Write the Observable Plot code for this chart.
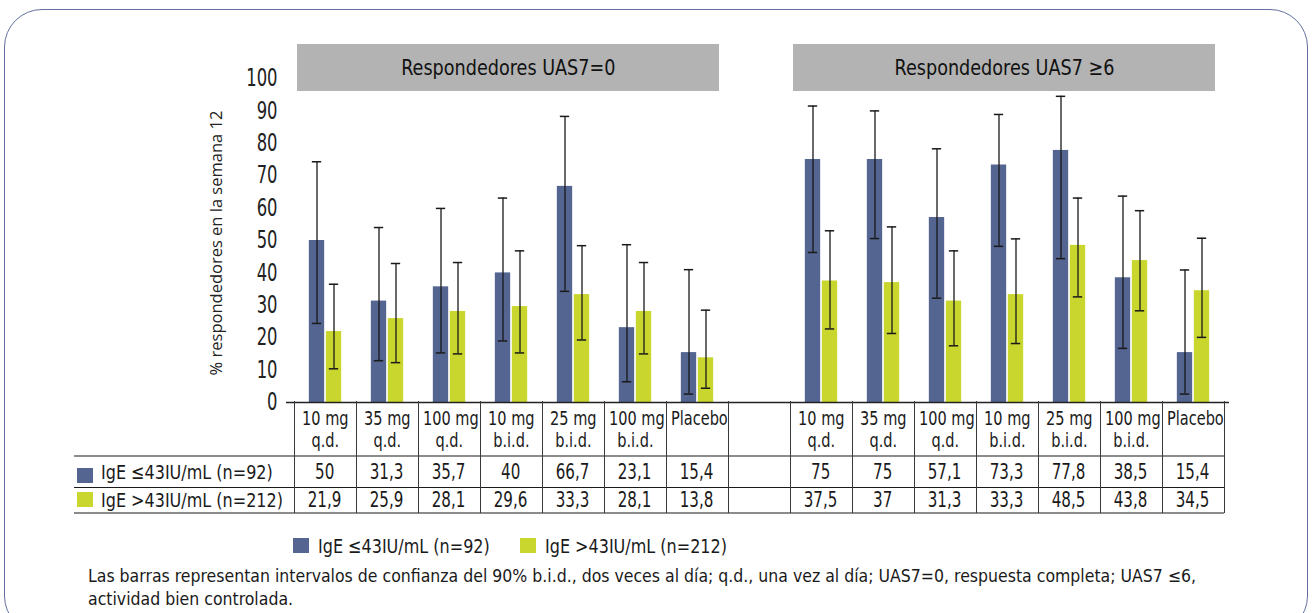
<!DOCTYPE html>
<html><head><meta charset="utf-8">
<script src="https://cdn.jsdelivr.net/npm/d3@7"></script>
<script src="https://cdn.jsdelivr.net/npm/@observablehq/plot@0.6"></script>
<style>
html,body{margin:0;padding:0;background:#fff;}
body{width:1315px;height:613px;overflow:hidden;position:relative;font-family:"DejaVu Sans Condensed","DejaVu Sans",sans-serif;font-stretch:condensed;color:#1a1a1a;}
#frame{position:absolute;left:4px;top:9px;width:1304px;height:625px;border:1.6px solid #6170a0;border-radius:38px;box-sizing:border-box;}
#chart{position:absolute;left:0;top:0;}
.title{position:absolute;top:44px;height:47px;background:#b3b3b3;display:flex;align-items:center;justify-content:center;font-size:22px;color:#111;white-space:nowrap;}
.hline{position:absolute;height:0;}
.vline{position:absolute;width:0;border-left:1.3px solid #3a3a3a;}
.hdr{position:absolute;text-align:center;font-size:19px;line-height:22px;color:#1a1a1a;white-space:nowrap;}
.val{position:absolute;text-align:center;font-size:20.5px;color:#1a1a1a;white-space:nowrap;}
.rowlab{position:absolute;font-size:20px;white-space:nowrap;}
.sw{position:absolute;}
.leg{position:absolute;font-size:20px;line-height:24px;white-space:nowrap;}
.sx{display:inline-block;}
#ylabel{position:absolute;left:216px;top:243px;transform:translate(-50%,-50%) rotate(-90deg);font-family:"Open Sans","Noto Sans",sans-serif;font-stretch:normal;font-size:16.5px;line-height:20px;white-space:nowrap;color:#222;}
#caption{position:absolute;left:88px;top:565px;font-size:17.5px;line-height:23px;color:#1a1a1a;width:1150px;}
</style></head><body>
<div id="frame"></div>
<div id="chart"></div>
<script>
// ---- data ----
const treatments = ["10 mg q.d.", "35 mg q.d.", "100 mg q.d.", "10 mg b.i.d.", "25 mg b.i.d.", "100 mg b.i.d.", "Placebo"];
const treatmentLine1 = ["10 mg", "35 mg", "100 mg", "10 mg", "25 mg", "100 mg", "Placebo"];
const treatmentLine2 = ["q.d.", "q.d.", "q.d.", "b.i.d.", "b.i.d.", "b.i.d.", ""];
const groups = ["Respondedores UAS7=0", "Respondedores UAS7 \u22656"];
const seriesNames = ["IgE \u226443IU/mL (n=92)", "IgE >43IU/mL (n=212)"];
const seriesColors = ["#536590", "#c8d62e"];
const yTicks = [0, 10, 20, 30, 40, 50, 60, 70, 80, 90, 100];
const yLabel = "% respondedores en la semana 12";

const uas0LowIgE  = [50, 31.3, 35.7, 40, 66.7, 23.1, 15.4];
const uas0HighIgE = [21.9, 25.9, 28.1, 29.6, 33.3, 28.1, 13.8];
const uas6LowIgE  = [75, 75, 57.1, 73.3, 77.8, 38.5, 15.4];
const uas6HighIgE = [37.5, 37, 31.3, 33.3, 48.5, 43.8, 34.5];

// 90% confidence intervals (lower, upper)
const uas0LowIgE_lo  = [24.4, 12.9, 15.3, 19.0, 34.3, 6.4, 2.6];
const uas0LowIgE_hi  = [74.3, 54.0, 59.9, 63.1, 88.3, 48.7, 41.0];
const uas0HighIgE_lo = [10.4, 12.3, 15.0, 15.3, 19.3, 15.0, 4.4];
const uas0HighIgE_hi = [36.5, 42.9, 43.2, 46.8, 48.4, 43.2, 28.5];
const uas6LowIgE_lo  = [46.3, 50.6, 32.2, 48.2, 44.4, 16.7, 2.6];
const uas6LowIgE_hi  = [91.5, 90.0, 78.3, 88.9, 94.5, 63.7, 40.9];
const uas6HighIgE_lo = [22.7, 21.3, 17.5, 18.2, 32.6, 28.3, 20.1];
const uas6HighIgE_hi = [53.0, 54.2, 46.8, 50.5, 63.1, 59.2, 50.7];

const caption = "Las barras representan intervalos de confianza del 90% b.i.d., dos veces al d\u00eda; q.d., una vez al d\u00eda; UAS7=0, respuesta completa; UAS7 \u22646, actividad bien controlada.";

// ---- build table ----
const values = [[uas0LowIgE, uas0HighIgE], [uas6LowIgE, uas6HighIgE]];
const los = [[uas0LowIgE_lo, uas0HighIgE_lo], [uas6LowIgE_lo, uas6HighIgE_lo]];
const his = [[uas0LowIgE_hi, uas0HighIgE_hi], [uas6LowIgE_hi, uas6HighIgE_hi]];
const GAP = "gap";
const keyOf = (g, t) => groups[g] + "|" + treatments[t];
const xDomain = [...treatments.map((t, i) => keyOf(0, i)), GAP, ...treatments.map((t, i) => keyOf(1, i))];
const rows = [];
groups.forEach((g, gi) => treatments.forEach((t, ti) => [0, 1].forEach(s => rows.push({
  key: keyOf(gi, ti), group: gi, t: ti, s, value: values[gi][s][ti], lo: los[gi][s][ti], hi: his[gi][s][ti]
}))));
const fmt = v => String(v).replace(".", ",");

// ---- layout ----
const W = 1315, H = 407, mL = 289, mR = 86, mT = 78, mB = 5;
const step = (W - mL - mR) / xDomain.length;
const c = step / 2, barW = 16, gapW = 1, capW = 10;
const off = gapW / 2 + barW / 2;
const s0 = rows.filter(d => d.s === 0), s1 = rows.filter(d => d.s === 1);
const ink = "#1a1a1a";
const fontSVG = "'DejaVu Sans Condensed','DejaVu Sans',sans-serif";

const plot = Plot.plot({
  width: W, height: H, marginLeft: mL, marginRight: mR, marginTop: mT, marginBottom: mB,
  style: {fontFamily: fontSVG, fontSize: "24px", color: "#222", background: "transparent", overflow: "visible"},
  x: {type: "band", domain: xDomain, padding: 0, axis: null},
  y: {domain: [0, 100], ticks: yTicks},
  marks: [
    Plot.axisY({ticks: yTicks, tickSize: 0, tickPadding: 12, label: null, fontSize: 24}),
    Plot.barY(s0, {x: "key", y: "value", fill: seriesColors[0], insetLeft: c - gapW / 2 - barW, insetRight: c + gapW / 2}),
    Plot.barY(s1, {x: "key", y: "value", fill: seriesColors[1], insetLeft: c + gapW / 2, insetRight: c - gapW / 2 - barW}),
    Plot.ruleX(s0, {x: "key", y1: "lo", y2: "hi", dx: -off, stroke: ink, strokeWidth: 1.3}),
    Plot.ruleX(s1, {x: "key", y1: "lo", y2: "hi", dx: off, stroke: ink, strokeWidth: 1.3}),
    Plot.tickY(s0, {x: "key", y: "lo", stroke: ink, strokeWidth: 1.5, insetLeft: c - off - capW / 2, insetRight: c + off - capW / 2}),
    Plot.tickY(s0, {x: "key", y: "hi", stroke: ink, strokeWidth: 1.5, insetLeft: c - off - capW / 2, insetRight: c + off - capW / 2}),
    Plot.tickY(s1, {x: "key", y: "lo", stroke: ink, strokeWidth: 1.5, insetLeft: c + off - capW / 2, insetRight: c - off - capW / 2}),
    Plot.tickY(s1, {x: "key", y: "hi", stroke: ink, strokeWidth: 1.5, insetLeft: c + off - capW / 2, insetRight: c - off - capW / 2}),
    Plot.ruleY([0], {stroke: "#222", strokeWidth: 1.6, insetLeft: -3})
  ]
});
const chart = document.getElementById("chart");
chart.appendChild(plot);

// condense the y tick labels horizontally (the reference uses a condensed face)
const tickScale = 0.76;
plot.querySelectorAll('g[aria-label="y-axis tick label"] text').forEach(t => {
  const tr = t.getAttribute("transform");
  if (tr) t.setAttribute("transform", tr + ` scale(${tickScale},1)`);
  else {
    const x = +t.getAttribute("x") || 0, y = +t.getAttribute("y") || 0;
    t.setAttribute("transform", `translate(${x},${y}) scale(${tickScale},1) translate(${-x},${-y})`);
  }
});

const xs = plot.scale("x");
const bandStart = k => (xs && xs.apply) ? xs.apply(k) : mL + xDomain.indexOf(k) * step;
const bw = (xs && xs.bandwidth) ? xs.bandwidth : step;
const add = (cls, style, content, scale, origin) => {
  const el = document.createElement("div");
  el.className = cls;
  Object.assign(el.style, style);
  if (content != null) {
    const lines = Array.isArray(content) ? content : [content];
    lines.forEach((ln, i) => {
      if (i) el.appendChild(document.createElement("br"));
      const sp = document.createElement("span");
      sp.className = "sx";
      sp.textContent = ln;
      if (scale) { sp.style.transform = `scaleX(${scale})`; sp.style.transformOrigin = origin || "center"; }
      el.appendChild(sp);
    });
  }
  document.body.appendChild(el);
  return el;
};

// y axis title
const yl = add("", {}, null);
yl.id = "ylabel";
yl.textContent = yLabel;

// group title boxes
groups.forEach((g, gi) => {
  const x0 = bandStart(keyOf(gi, 0)) + 3;
  const x1 = bandStart(keyOf(gi, treatments.length - 1)) + bw - 9;
  add("title", {left: x0 + "px", width: (x1 - x0) + "px"}, g, 0.89);
});

// table geometry
const yTop = 401, yHdr = 456, yMid = 487, yBot = 513, tLeft = 74, tRight = bandStart(xDomain[xDomain.length - 1]) + bw;
add("hline", {left: tLeft + "px", top: (yHdr - 1) + "px", width: (tRight - tLeft) + "px", borderTop: "2.5px solid #8c8c8c"});
add("hline", {left: tLeft + "px", top: (yMid) + "px", width: (tRight - tLeft) + "px", borderTop: "1.4px solid #1a1a1a"});
add("hline", {left: tLeft + "px", top: (yBot - 1) + "px", width: (tRight - tLeft) + "px", borderTop: "2.5px solid #8c8c8c"});
xDomain.forEach(k => add("vline", {left: (bandStart(k) - 0.5) + "px", top: yTop + "px", height: (yBot - yTop) + "px"}));
add("vline", {left: (tRight - 0.5) + "px", top: yTop + "px", height: (yBot - yTop) + "px"});

const hdrScale = 0.85, valScale = 0.82;
groups.forEach((g, gi) => treatments.forEach((t, ti) => {
  const x0 = bandStart(keyOf(gi, ti));
  const lines = treatmentLine2[ti] ? [treatmentLine1[ti], treatmentLine2[ti]] : [treatmentLine1[ti]];
  add("hdr", {left: x0 + "px", top: "407px", width: bw + "px"}, lines, hdrScale);
  [0, 1].forEach(s => add("val", {left: x0 + "px", top: (s === 0 ? yHdr + 1 : yMid) + "px", width: bw + "px",
    height: (s === 0 ? yMid - yHdr - 1 : yBot - yMid) + "px", lineHeight: (s === 0 ? yMid - yHdr - 1 : yBot - yMid) + "px"},
    fmt(values[gi][s][ti]), valScale));
}));

// row labels
const labScale = 0.89;
seriesNames.forEach((n, s) => {
  const top = s === 0 ? yHdr + 1 : yMid;
  const h = s === 0 ? yMid - yHdr - 1 : yBot - yMid;
  add("sw", {left: "77px", top: (s === 0 ? 468 : 492) + "px", width: "16px", height: "15px", background: seriesColors[s]});
  add("rowlab", {left: "101px", top: top + "px", height: h + "px", lineHeight: h + "px"}, n, labScale, "left center");
});

// legend
const legX = [293, 520];
seriesNames.forEach((n, s) => {
  add("sw", {left: legX[s] + "px", top: "538px", width: "16px", height: "15px", background: seriesColors[s]});
  add("leg", {left: (legX[s] + 25) + "px", top: "534px"}, n, labScale, "left center");
});

const cap = add("", {}, null);
cap.id = "caption";
cap.textContent = caption;
</script>
</body></html>
